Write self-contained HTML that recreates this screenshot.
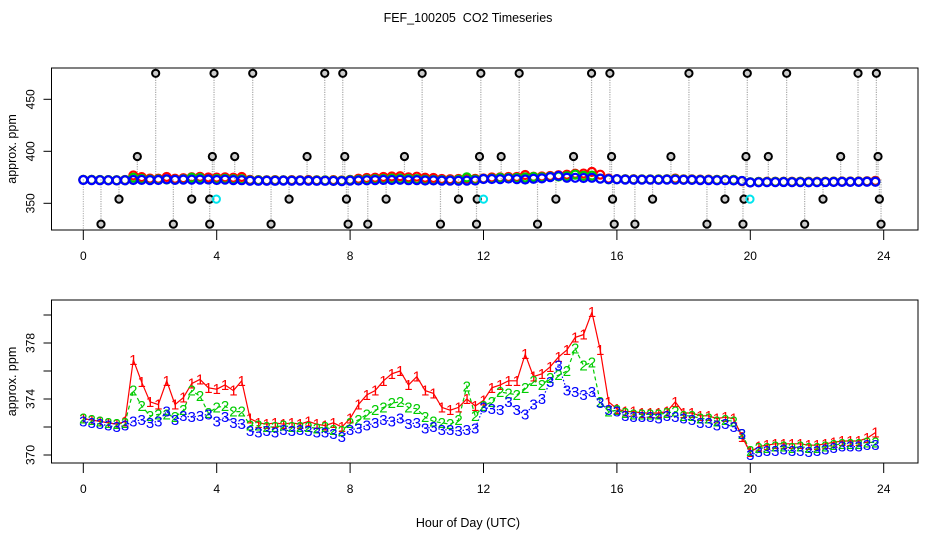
<!DOCTYPE html>
<html><head><meta charset="utf-8"><style>
body{margin:0;background:#fff}
svg{display:block;font-family:"Liberation Sans",sans-serif}
</style></head><body>
<svg id="chart" width="936" height="540" viewBox="0 0 936 540" xmlns="http://www.w3.org/2000/svg">
<rect width="936" height="540" fill="#fff"/>
<text x="468" y="22" text-anchor="middle" font-size="12.5" style="white-space:pre">FEF_100205  CO2 Timeseries</text>
<g id="top"></g>
<g id="bot"></g>
<text x="468" y="527" text-anchor="middle" font-size="12.5">Hour of Day (UTC)</text>
</svg>
<script>
const xTicks=[0,4,8,12,16,20,24];
const topYTicks=[350,400,450];
const botYTicks=[370,372,374,376,378,380];
const botYLabels=[370,374,378];
const series1=[372.6,372.5,372.4,372.3,372.2,372.4,376.8,375.2,373.8,373.6,375.3,373.6,374.1,375.1,375.4,374.8,374.7,375.0,374.6,375.3,372.6,372.3,372.2,372.3,372.2,372.3,372.2,372.4,372.2,372.1,372.3,372.0,372.6,373.6,374.3,374.6,375.3,375.8,376.0,375.0,375.6,374.6,374.4,373.4,373.2,373.4,374.0,373.5,373.9,374.8,375.0,375.3,375.3,377.2,375.6,375.8,376.3,377.0,377.5,378.4,378.6,380.2,377.5,373.8,373.3,373.1,373.1,373.0,373.0,373.0,373.1,373.8,373.0,373.0,372.8,372.8,372.6,372.7,372.6,371.3,370.2,370.6,370.7,370.8,370.8,370.8,370.8,370.7,370.7,370.8,370.9,371.0,371.0,371.0,371.2,371.6];
const series2=[372.6,372.5,372.4,372.3,372.2,372.3,374.6,373.5,372.8,372.9,372.9,372.7,373.2,374.6,374.2,373.0,373.4,373.5,373.1,373.1,372.1,372.1,372.0,372.0,372.1,372.0,372.0,372.0,371.9,372.0,371.8,371.7,372.3,372.5,372.9,373.2,373.4,373.7,373.8,373.4,373.3,372.7,372.4,372.3,372.2,372.5,374.9,372.8,373.5,373.8,374.5,374.4,374.3,374.8,375.3,375.0,375.5,375.7,376.0,377.6,376.4,376.6,373.8,373.1,373.2,373.0,372.9,372.9,372.9,372.9,373.0,373.1,372.8,372.8,372.6,372.6,372.4,372.5,372.4,371.5,370.3,370.5,370.5,370.6,370.6,370.5,370.6,370.5,370.5,370.6,370.7,370.8,370.8,370.8,370.9,370.9];
const series3=[372.4,372.3,372.2,372.1,372.0,372.1,372.4,372.5,372.3,372.4,373.1,372.5,372.8,372.7,372.8,372.9,372.4,372.7,372.3,372.2,371.7,371.6,371.7,371.6,371.8,371.7,371.8,371.7,371.6,371.6,371.5,371.3,371.8,371.9,372.1,372.3,372.5,372.4,372.6,372.2,372.3,371.9,372.0,371.8,371.8,371.7,371.8,371.9,373.4,373.3,373.2,373.8,373.2,372.9,373.6,374.0,375.2,376.4,374.6,374.5,374.3,374.5,373.7,373.2,373.1,372.8,372.7,372.7,372.7,372.6,372.8,372.7,372.6,372.5,372.3,372.3,372.1,372.2,372.0,371.5,370.0,370.2,370.3,370.3,370.4,370.3,370.3,370.2,370.3,370.4,370.5,370.6,370.6,370.6,370.7,370.7];
const outlierHours=[0.53,1.07,1.62,2.17,2.7,3.25,3.79,3.79,3.87,3.92,4.54,5.08,5.63,6.17,6.71,7.24,7.78,7.84,7.89,7.94,8.53,9.08,9.63,10.16,10.71,11.25,11.79,11.81,11.88,11.92,12.53,13.07,13.62,14.17,14.7,15.24,15.79,15.84,15.87,15.92,16.54,17.07,17.62,18.16,18.7,19.24,19.78,19.81,19.87,19.91,20.54,21.09,21.63,22.18,22.71,23.23,23.78,23.83,23.87,23.92];
const outlierValues=[330,354,395,475,330,354,330,354,395,475,395,475,330,354,395,475,475,395,354,330,330,354,395,475,330,354,330,354,395,475,395,475,330,354,395,475,475,395,354,330,330,354,395,475,330,354,330,354,395,475,395,475,330,354,395,475,475,395,354,330];
const flagHours=[3.99,12.0,19.99];
const flagValues=[354,354,354];
const baseline=373;

const NS="http://www.w3.org/2000/svg";
function mk(parent,tag,attrs){const e=document.createElementNS(NS,tag);for(const k in attrs)e.setAttribute(k,attrs[k]);parent.appendChild(e);return e;}
const L=51.5,R=918;
const xs=h=>83.3+h*33.35;
const hours=series1.map((_,i)=>i*0.25);
const colors=["#ff0000","#00cc00","#0000ff"];
const allSeries=[series1,series2,series3];

function axes(g,top,bottom,ys,yTicks,yLabels,name){
  const box=mk(g,'rect',{x:L,y:top,width:R-L,height:bottom-top,fill:'none',stroke:'#000','stroke-width':1});
  
  xTicks.forEach(t=>{
    const l=mk(g,'line',{x1:xs(t),x2:xs(t),y1:bottom,y2:bottom+10,stroke:'#000'});
    
    const tx=mk(g,'text',{x:xs(t),y:bottom+30,'text-anchor':'middle','font-size':12});
    tx.textContent=t;
  });
  yTicks.forEach(t=>{
    const l=mk(g,'line',{x1:L,x2:L-8,y1:ys(t),y2:ys(t),stroke:'#000'});
    
  });
  yLabels.forEach(t=>{
    const tx=mk(g,'text',{x:0,y:0,'text-anchor':'middle','font-size':12,transform:`translate(${L-17},${ys(t)}) rotate(-90)`});
    tx.textContent=t;
  });
  const yt=mk(g,'text',{x:0,y:0,'text-anchor':'middle','font-size':12.5,transform:`translate(16,${(top+bottom)/2}) rotate(-90)`});
  yt.textContent='approx. ppm';
}

// TOP PANEL
const gT=document.getElementById('top');
const T0=68,T1=230;
const yT=v=>203.3-(v-350)*1.04;
const clipT=mk(gT,'clipPath',{id:'ct'});mk(clipT,'rect',{x:L,y:T0,width:R-L,height:T1-T0});
const pT=mk(gT,'g',{'clip-path':'url(#ct)'});
outlierHours.forEach((h,i)=>{
  const l=mk(pT,'line',{x1:xs(h),x2:xs(h),y1:yT(baseline),y2:yT(outlierValues[i]),stroke:'#aaa','stroke-width':1.2,'stroke-dasharray':'1.2,1.2'});
  
});
mk(pT,'line',{x1:xs(0),x2:xs(0),y1:yT(baseline),y2:T1,stroke:'#aaa','stroke-dasharray':'1.2,1.2'});
allSeries.forEach((s,k)=>{
  s.forEach((v,i)=>{
    const c=mk(pT,'circle',{cx:xs(hours[i]),cy:yT(v),r:4,fill:'none',stroke:colors[k],'stroke-width':2.2});
    
  });
});
outlierHours.forEach((h,i)=>{
  const c=mk(pT,'circle',{cx:xs(h),cy:yT(outlierValues[i]),r:3.6,fill:'#ccc',stroke:'#000','stroke-width':2});
  
});
flagHours.forEach((h,i)=>{
  const c=mk(pT,'circle',{cx:xs(h),cy:yT(flagValues[i]),r:3.6,fill:'none',stroke:'#00e5ee','stroke-width':2});
  
});
axes(gT,T0,T1,yT,topYTicks,topYTicks,'top');

// BOTTOM PANEL
const gB=document.getElementById('bot');
const B0=300,B1=463;
const yB=v=>455-(v-370)*14;
const clipB=mk(gB,'clipPath',{id:'cb'});mk(clipB,'rect',{x:L,y:B0,width:R-L,height:B1-B0});
const pB=mk(gB,'g',{'clip-path':'url(#cb)'});
const dashes=['none','4,3','1.5,2'];
[2,1,0].forEach(k=>{
  const s=allSeries[k];
  const d=s.map((v,i)=>(i?'L':'M')+xs(hours[i]).toFixed(1)+' '+yB(v).toFixed(1)).join(' ');
  const p=mk(pB,'path',{d:d,fill:'none',stroke:colors[k],'stroke-width':1.2,'stroke-dasharray':dashes[k]});
  
});
[0,1,2].forEach(k=>{
  allSeries[k].forEach((v,i)=>{
    const t=mk(pB,'text',{x:xs(hours[i]),y:yB(v)+5,'text-anchor':'middle','font-size':15,fill:colors[k]});
    t.textContent=String(k+1);
    
  });
});
axes(gB,B0,B1,yB,botYTicks,botYLabels,'bottom');
</script>
</body></html>
